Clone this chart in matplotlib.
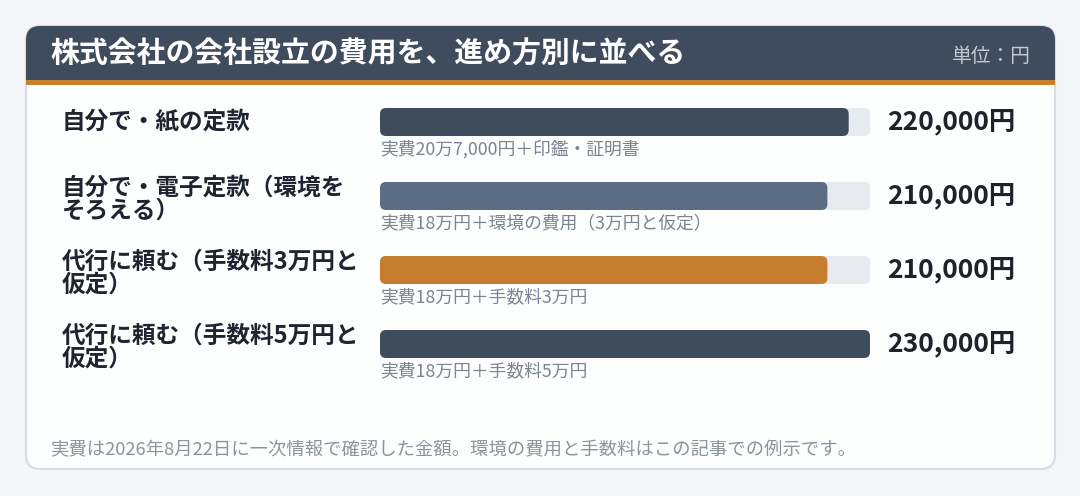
import matplotlib
matplotlib.use("Agg")
import matplotlib.pyplot as plt
from matplotlib.patches import FancyBboxPatch, Rectangle
from matplotlib.transforms import blended_transform_factory

plt.rcParams['font.family'] = ['Noto Sans CJK JP', 'DejaVu Sans']

# データ
labels = ["自分で・紙の定款",
          "自分で・電子定款（環境を\nそろえる）",
          "代行に頼む（手数料3万円と\n仮定）",
          "代行に頼む（手数料5万円と\n仮定）"]
costs = [220000, 210000, 210000, 230000]
notes = ["実費20万7,000円＋印鑑・証明書",
         "実費18万円＋環境の費用（3万円と仮定）",
         "実費18万円＋手数料3万円",
         "実費18万円＋手数料5万円"]
bar_colors = ["#3e4c5c", "#5b6d84", "#c67d2d", "#3e4c5c"]

title = "株式会社の会社設立の費用を、進め方別に並べる"
unit = "単位：円"
footnote = "実費は2026年8月22日に一次情報で確認した金額。環境の費用と手数料はこの記事での例示です。"

W, H = 1080, 496
fig = plt.figure(figsize=(W / 100, H / 100), dpi=100)
fig.patch.set_facecolor("#f4f6f9")

# 背景（カード）用の軸：ピクセル座標
bg = fig.add_axes([0, 0, 1, 1])
bg.set_xlim(0, W)
bg.set_ylim(H, 0)
bg.axis("off")

card = FancyBboxPatch((26, 26), 1029, 443, boxstyle="round,pad=0,rounding_size=14",
                      fc="#fdfefe", ec="#d6dde6", lw=1.5, zorder=1)
bg.add_patch(card)
bg.add_patch(FancyBboxPatch((26, 26), 1029, 59, boxstyle="round,pad=0,rounding_size=14",
                            fc="#3e4c5d", ec="none", zorder=2))
bg.add_patch(Rectangle((26, 50), 1029, 35, fc="#3e4c5d", ec="none", zorder=2))
bg.add_patch(Rectangle((26, 80), 1029, 5, fc="#c8802c", ec="none", zorder=3))

bg.text(50, 54, title, color="white", fontsize=20.8, fontweight="bold",
        va="center", ha="left", zorder=4)
bg.text(1031, 57, unit, color="#c3c9d1", fontsize=14.2, va="center", ha="right", zorder=4)
bg.text(50, 450, footnote, color="#8b939d", fontsize=13.2, va="center", ha="left", zorder=4)

# 棒グラフの軸
x0, x1 = 380, 870
y0, y1 = 85, 381
ax = fig.add_axes([x0 / W, 1 - y1 / H, (x1 - x0) / W, (y1 - y0) / H])
ax.patch.set_alpha(0)
ax.axis("off")
vmax = max(costs)
n = len(costs)
ax.set_xlim(0, vmax)
ax.set_ylim(n - 0.5, -0.5)

bar_h = 28 / 74
px_x = vmax / (x1 - x0)
px_y = n / (y1 - y0)
aspect = px_y / px_x
r = 6 * px_x

for i, (v, c) in enumerate(zip(costs, bar_colors)):
    top = i - bar_h / 2
    ax.add_patch(FancyBboxPatch((0, top), vmax, bar_h,
                                boxstyle=f"round,pad=0,rounding_size={r}",
                                mutation_aspect=aspect, fc="#e7eaef", ec="none", zorder=1))
    ax.add_patch(FancyBboxPatch((0, top), v, bar_h,
                                boxstyle=f"round,pad=0,rounding_size={r}",
                                mutation_aspect=aspect, fc=c, ec="none", zorder=2))
    ax.text(0, i + 0.365, notes[i], color="#7b8491", fontsize=12.8,
            va="center", ha="left", transform=ax.transData, clip_on=False)

tr = blended_transform_factory(bg.transData, ax.transData)
for i, (lab, v) in enumerate(zip(labels, costs)):
    dy = 0.045 if "\n" in lab else 0
    ax.text(62, i + dy, lab, transform=tr, color="#1e2530", fontsize=17,
            fontweight="bold", va="center", ha="left", linespacing=0.95, clip_on=False)
    ax.text(887, i, f"{v:,}円", transform=tr, color="#1d232b", fontsize=19,
            fontweight="bold", va="center", ha="left", clip_on=False)

fig.savefig("out.png", dpi=100, facecolor=fig.get_facecolor())
